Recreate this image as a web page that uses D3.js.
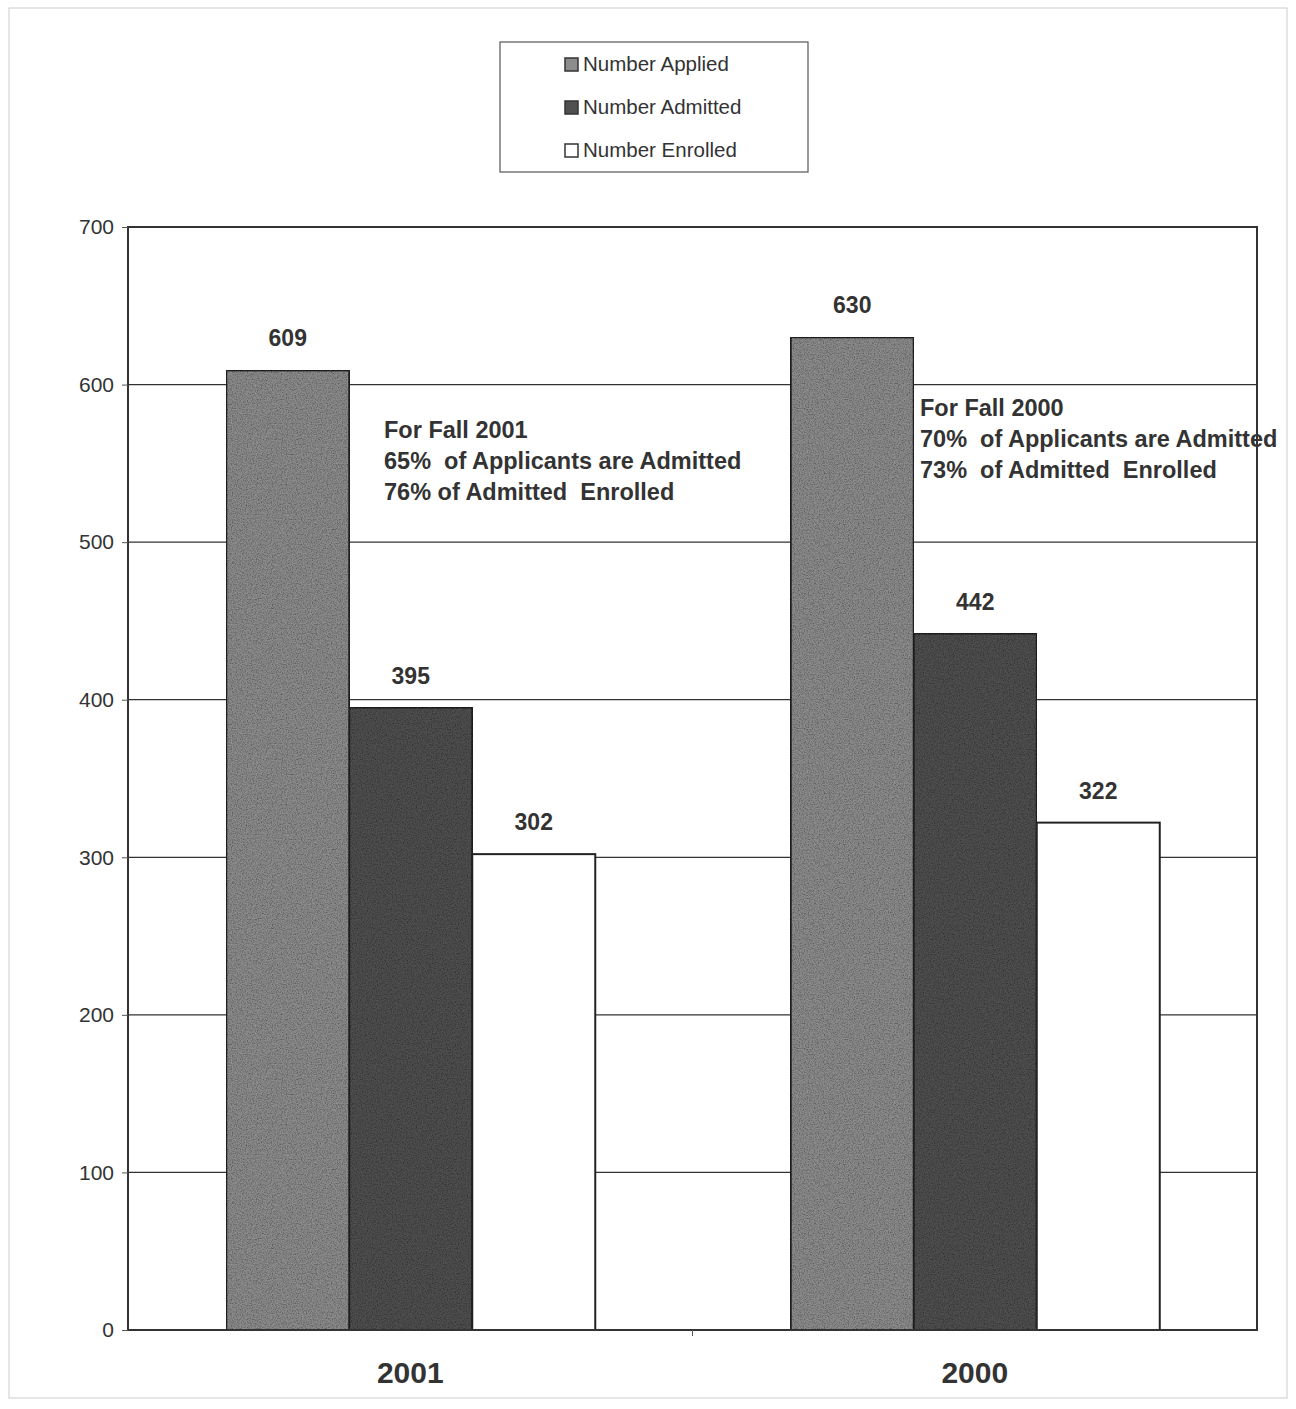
<!DOCTYPE html>
<html>
<head>
<meta charset="utf-8">
<script src="https://d3js.org/d3.v7.min.js"></script>
<style>
    body { margin: 0; background: #fff; }
    svg { font-family: "Liberation Sans", Arial, sans-serif; }
    text { white-space: pre; }
</style>
</head>
<body>
<svg id="chart" width="1296" height="1409"></svg>
<script>
    // data
    const years = ["2001", "2000"];
    const seriesNames = ["Number Applied", "Number Admitted", "Number Enrolled"];
    const applied = [609, 630];
    const admitted = [395, 442];
    const enrolled = [302, 322];
    const yTicks = [0, 100, 200, 300, 400, 500, 600, 700];
    const notes = [
        ["For Fall 2001", "65%  of Applicants are Admitted", "76% of Admitted  Enrolled"],
        ["For Fall 2000", "70%  of Applicants are Admitted", "73%  of Admitted  Enrolled"]
    ];

    const svg = d3.select("#chart");
    const margin = {top: 227, right: 39, bottom: 79, left: 128};
    const width = 1296 - margin.left - margin.right;
    const height = 1409 - margin.top - margin.bottom;

    // noisy fill like the photocopy texture
    const defs = svg.append("defs");
    const grain = defs.append("filter").attr("id", "grain")
        .attr("x", 0).attr("y", 0).attr("width", 1).attr("height", 1);
    grain.append("feTurbulence").attr("type", "fractalNoise")
        .attr("baseFrequency", 0.8).attr("numOctaves", 2).attr("seed", 3).attr("result", "noise");
    grain.append("feColorMatrix").attr("in", "noise").attr("type", "matrix")
        .attr("values", "0 0 0 0 0  0 0 0 0 0  0 0 0 0 0  0 0 0 -2.2 1.4").attr("result", "dots");
    grain.append("feComposite").attr("in", "dots").attr("in2", "SourceGraphic").attr("operator", "in").attr("result", "d2");
    grain.append("feComponentTransfer").attr("in", "d2").attr("result", "d3")
        .append("feFuncA").attr("type", "linear").attr("slope", 0.6);
    const merge = grain.append("feMerge");
    merge.append("feMergeNode").attr("in", "SourceGraphic");
    merge.append("feMergeNode").attr("in", "d3");

    // faint page frame
    svg.append("rect").attr("x", 9).attr("y", 8).attr("width", 1278).attr("height", 1390)
        .attr("fill", "none").attr("stroke", "#ccc").attr("stroke-width", 1);

    const g = svg.append("g").attr("transform", `translate(${margin.left},${margin.top})`);

    const x0 = d3.scaleBand().domain(years).range([0, width]);
    const x1 = d3.scaleBand().domain(seriesNames).range([0, 369])
        .paddingInner(0);
    const y = d3.scaleLinear().domain([0, 700]).range([height, 0]);

    const colors = {"Number Applied": "#8c8c8c", "Number Admitted": "#505050", "Number Enrolled": "#ffffff"};

    // gridlines
    g.selectAll("line.grid").data(yTicks.filter(d => d > 0 && d < 700))
        .join("line").attr("class", "grid")
        .attr("x1", 0).attr("x2", width)
        .attr("y1", d => y(d)).attr("y2", d => y(d))
        .attr("stroke", "#333").attr("stroke-width", 1.2);

    const rows = years.map((yr, i) => ({
        year: yr,
        values: [
            {key: seriesNames[0], value: applied[i]},
            {key: seriesNames[1], value: admitted[i]},
            {key: seriesNames[2], value: enrolled[i]}
        ]
    }));

    const groups = g.selectAll("g.year").data(rows).join("g")
        .attr("class", "year")
        .attr("transform", d => `translate(${x0(d.year) + x0.bandwidth() / 2 - 184},0)`);

    groups.selectAll("rect").data(d => d.values).join("rect")
        .attr("x", d => x1(d.key))
        .attr("y", d => y(d.value))
        .attr("width", x1.bandwidth())
        .attr("height", d => height - y(d.value))
        .attr("fill", d => colors[d.key])
        .attr("stroke", "#222")
        .attr("stroke-width", 2)
        .attr("filter", d => d.key === "Number Enrolled" ? null : "url(#grain)");

    groups.selectAll("text.val").data(d => d.values).join("text")
        .attr("class", "val")
        .attr("x", d => x1(d.key) + x1.bandwidth() / 2)
        .attr("y", d => y(d.value) - 24)
        .attr("text-anchor", "middle")
        .attr("font-size", 23).attr("font-weight", "bold").attr("fill", "#333")
        .text(d => d.value);

    // plot border
    g.append("rect").attr("x", 0).attr("y", 0).attr("width", width).attr("height", height)
        .attr("fill", "none").attr("stroke", "#333").attr("stroke-width", 2);

    // y axis
    const yAxis = g.append("g")
        .call(d3.axisLeft(y).tickValues(yTicks).tickSize(6).tickPadding(8));
    yAxis.select(".domain").remove();
    yAxis.selectAll("line").attr("stroke", "#555");
    yAxis.selectAll("text").attr("font-size", 21).attr("fill", "#333")
        .attr("font-family", "Liberation Sans, Arial, sans-serif");

    // x axis labels
    const xAxis = g.append("g").attr("transform", `translate(0,${height})`)
        .call(d3.axisBottom(x0).tickSize(0).tickPadding(32));
    xAxis.select(".domain").remove();
    xAxis.selectAll("text").attr("font-size", 30).attr("font-weight", "bold").attr("fill", "#333")
        .attr("font-family", "Liberation Sans, Arial, sans-serif");
    g.append("line").attr("x1", x0("2000")).attr("x2", x0("2000"))
        .attr("y1", height).attr("y2", height + 6).attr("stroke", "#555");

    // annotations
    const notePos = [{x: 384, y: 438}, {x: 920, y: 416}];
    notes.forEach((lines, i) => {
        const t = svg.append("text").attr("x", notePos[i].x).attr("y", notePos[i].y)
            .attr("font-size", 23.5).attr("font-weight", "bold").attr("fill", "#333");
        lines.forEach((l, j) => t.append("tspan").attr("x", notePos[i].x).attr("dy", j === 0 ? 0 : 31).text(l));
    });

    // legend
    const legend = svg.append("g").attr("transform", "translate(500,42)");
    legend.append("rect").attr("width", 308).attr("height", 130)
        .attr("fill", "#fff").attr("stroke", "#555").attr("stroke-width", 1.2);
    const items = legend.selectAll("g.item").data(seriesNames).join("g")
        .attr("class", "item")
        .attr("transform", (d, i) => `translate(65,${22 + i * 43})`);
    items.append("rect").attr("x", 0).attr("y", -6).attr("width", 13).attr("height", 13)
        .attr("fill", d => colors[d]).attr("stroke", "#333").attr("stroke-width", 1.5);
    items.append("text").attr("x", 18).attr("y", 0).attr("dy", "0.35em")
        .attr("font-size", 20.5).attr("fill", "#333").text(d => d);
</script>
</body>
</html>
